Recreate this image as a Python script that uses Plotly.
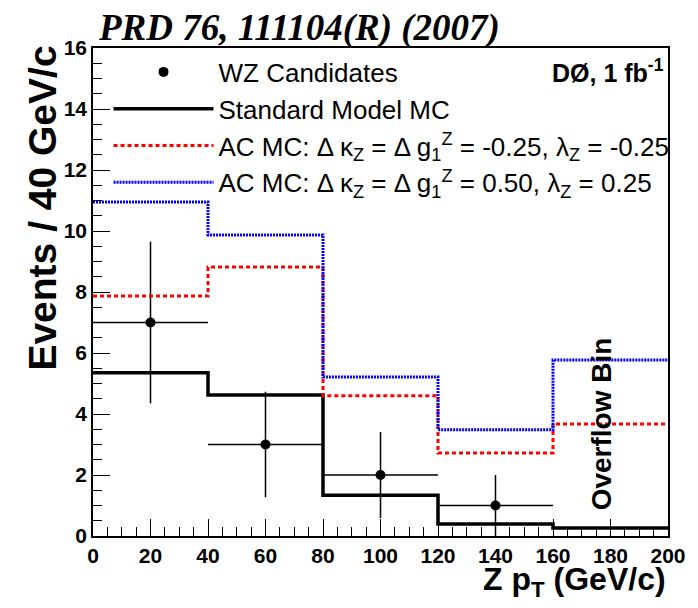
import plotly.graph_objects as go

# ---- data ----
bin_edges = [0, 40, 80, 120, 160, 200]
sm_mc = [5.35, 4.62, 1.34, 0.39, 0.26]
ac_neg = [7.87, 8.82, 4.60, 2.72, 3.67]
ac_pos = [10.95, 9.87, 5.21, 3.48, 5.77]
data_x = [20, 60, 100, 140]
data_y = [7, 3, 2, 1]
data_err_y = [2.65, 1.73, 1.41, 1.0]
data_err_x = [20, 20, 20, 20]

x_ticks = [0, 20, 40, 60, 80, 100, 120, 140, 160, 180, 200]
y_ticks = [0, 2, 4, 6, 8, 10, 12, 14, 16]

def step(vals):
    return bin_edges, list(vals) + [vals[-1]]

fig = go.Figure()

fig.add_trace(go.Scatter(
    x=data_x, y=data_y, mode="markers", name="WZ Candidates",
    marker=dict(color="black", size=10),
    error_x=dict(type="data", array=data_err_x, color="black", thickness=1.5, width=0),
    error_y=dict(type="data", array=data_err_y, color="black", thickness=1.5, width=0),
    legendgroup="a",
))
sx, sy = step(sm_mc)
fig.add_trace(go.Scatter(x=sx, y=sy, mode="lines", line_shape="hv", name="Standard Model MC",
                         line=dict(color="black", width=3.5), legendgroup="b"))
sx, sy = step(ac_neg)
fig.add_trace(go.Scatter(x=sx, y=sy, mode="lines", line_shape="hv",
                         name="AC MC: Δ κ<sub>Z</sub> = Δ g<sub>1</sub><sup>Z</sup> = -0.25, λ<sub>Z</sub> = -0.25",
                         line=dict(color="#ff0000", width=3, dash="4px,3px"), legendgroup="c"))
sx, sy = step(ac_pos)
fig.add_trace(go.Scatter(x=sx, y=sy, mode="lines", line_shape="hv",
                         name="AC MC: Δ κ<sub>Z</sub> = Δ g<sub>1</sub><sup>Z</sup> = 0.50, λ<sub>Z</sub> = 0.25",
                         line=dict(color="#0000ff", width=3, dash="2px,1px"), legendgroup="d"))

tickfont = dict(family="Liberation Sans, Arial", size=21, color="black", weight="bold")

fig.update_layout(
    width=698, height=608,
    margin=dict(l=93, r=20, t=48, b=72),
    paper_bgcolor="white", plot_bgcolor="white",
    showlegend=True,
    legend=dict(x=0.027, y=0.999, xanchor="left", yanchor="top",
                bgcolor="rgba(0,0,0,0)", font=dict(family="Liberation Sans, Arial", size=26, color="black"),
                itemwidth=100, traceorder="grouped", tracegroupgap=0),
    xaxis=dict(range=[0, 200], tickvals=x_ticks, ticktext=[str(v) for v in x_ticks],
               ticks="inside", ticklen=17, tickwidth=1.2, tickcolor="black",
               minor=dict(dtick=5, ticks="inside", ticklen=9, tickwidth=1.2, tickcolor="black"),
               showline=True, linecolor="black", linewidth=1.5, mirror=True,
               showgrid=False, zeroline=False, tickfont=tickfont),
    yaxis=dict(range=[0, 16], tickvals=y_ticks, ticktext=[str(v) for v in y_ticks],
               ticks="inside", ticklen=17, tickwidth=1.2, tickcolor="black",
               minor=dict(dtick=0.5, ticks="inside", ticklen=9, tickwidth=1.2, tickcolor="black"),
               showline=True, linecolor="black", linewidth=1.5, mirror=True,
               showgrid=False, zeroline=False, tickfont=tickfont),
    annotations=[
        dict(text="<b><i>PRD 76, 111104(R) (2007)</i></b>", xref="paper", yref="paper",
             x=0.005, y=1.0, xanchor="left", yanchor="bottom", yshift=-3, showarrow=False,
             font=dict(family="Liberation Serif, Times New Roman", size=37, color="black")),
        dict(text="<b>Events / 40 GeV/c</b>", xref="paper", yref="paper", x=-0.087, y=1.01,
             xanchor="center", yanchor="top", textangle=-90, showarrow=False,
             font=dict(family="Liberation Sans, Arial", size=39, color="black")),
        dict(text="<b>Z p<sub>T</sub> (GeV/c)</b>", xref="paper", yref="paper", x=1.0, y=-0.048,
             xanchor="right", yanchor="top", showarrow=False,
             font=dict(family="Liberation Sans, Arial", size=32, color="black")),
        dict(text="<b>DØ, 1 fb<sup>-1</sup></b>", xref="paper", yref="paper", x=0.997, y=0.99,
             xanchor="right", yanchor="top", showarrow=False,
             font=dict(family="Liberation Sans, Arial", size=25, color="black")),
        dict(text="<b>Overflow Bin</b>", xref="x", yref="y", x=177, y=3.69,
             xanchor="center", yanchor="middle", textangle=-90, showarrow=False,
             font=dict(family="Liberation Sans, Arial", size=28, color="black")),
    ],
)

fig.write_html("out.html")
